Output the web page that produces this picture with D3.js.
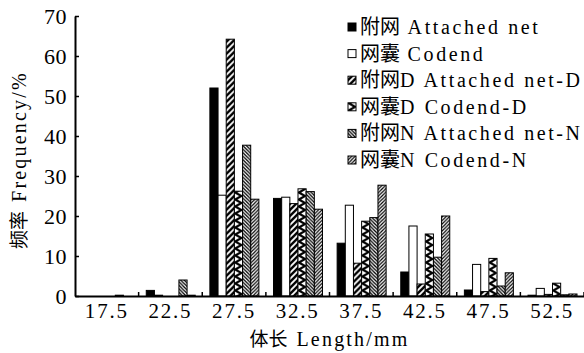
<!DOCTYPE html>
<html>
<head>
<meta charset="utf-8">
<script src="https://cdn.jsdelivr.net/npm/d3@7"></script>
<style>
  body { margin: 0; background: #fff; }
  svg { display: block; }
</style>
</head>
<body>
<div id="chartArea"></div>
<script>
// length classes (mm) and frequencies (%) per net part
const categories = ["17.5", "22.5", "27.5", "32.5", "37.5", "42.5", "47.5", "52.5"];
const attachedNet  = [0,   1.4, 52.0, 24.4, 13.2,  6.0, 1.5, 0.2];
const codend       = [0,   0.2, 25.2, 24.7, 22.7, 17.5, 7.9, 1.9];
const attachedNetD = [0,   0,   64.2, 23.1,  8.2,  3.0, 1.1, 0.4];
const codendD      = [0,   0,   26.2, 26.8, 18.7, 15.5, 9.4, 3.2];
const attachedNetN = [0.2, 4.0, 37.7, 26.1, 19.6,  9.7, 2.5, 0.3];
const codendN      = [0,   0.2, 24.2, 21.7, 27.7, 20.0, 5.8, 0.5];
const seriesCn = ["附网", "网囊", "附网", "网囊", "附网", "网囊"];
const seriesEn = [" Attached net", " Codend", "D Attached net-D",
                  "D Codend-D", "N Attached net-N", "N Codend-N"];
const yTicks = [0, 10, 20, 30, 40, 50, 60, 70];

const series = [attachedNet, codend, attachedNetD, codendD, attachedNetN, codendN];
const fills = ["#000", "#fff", "url(#pD1)", "url(#pD2)", "url(#pN1)", "url(#pN2)"];

const W = 584, H = 353;
const m = {left: 75, right: 0, top: 16, bottom: 57};
const latin = "'Liberation Serif', serif";
const cjk = "'Noto Sans CJK SC', sans-serif";

let svg = d3.select('#chartArea').append('svg').attr('width', W).attr('height', H);

// fill patterns
let defs = svg.append('defs');
let p1 = defs.append('pattern').attr('id', 'pD1').attr('patternUnits', 'userSpaceOnUse')
   .attr('width', 6).attr('height', 6);
p1.append('rect').attr('width', 6).attr('height', 6).attr('fill', '#fff');
p1.append('path').attr('d', 'M-1,7 L7,-1 M-4,4 L4,-4 M2,10 L10,2')
   .attr('stroke', '#000').attr('stroke-width', 2.4);
let p2 = defs.append('pattern').attr('id', 'pD2').attr('patternUnits', 'userSpaceOnUse')
   .attr('width', 8).attr('height', 7);
p2.append('rect').attr('width', 8).attr('height', 7).attr('fill', '#fff');
p2.append('path').attr('d', 'M8,-0.5 L1,3.5 L8,7.5').attr('fill', 'none')
   .attr('stroke', '#000').attr('stroke-width', 2.2);
let p3 = defs.append('pattern').attr('id', 'pN1').attr('patternUnits', 'userSpaceOnUse')
   .attr('width', 3.5).attr('height', 3.5);
p3.append('rect').attr('width', 3.5).attr('height', 3.5).attr('fill', '#fff');
p3.append('path').attr('d', 'M-1,-1 L4.5,4.5 M-1,2.5 L1,4.5 M2.5,-1 L4.5,1')
   .attr('stroke', '#000').attr('stroke-width', 1.3);
let p4 = defs.append('pattern').attr('id', 'pN2').attr('patternUnits', 'userSpaceOnUse')
   .attr('width', 3.5).attr('height', 3.5);
p4.append('rect').attr('width', 3.5).attr('height', 3.5).attr('fill', '#fff');
p4.append('path').attr('d', 'M-1,4.5 L4.5,-1 M-1,1 L1,-1 M2.5,4.5 L4.5,2.5')
   .attr('stroke', '#000').attr('stroke-width', 1.2);

let x0 = d3.scaleBand().domain(categories).range([m.left, W - m.right]).padding(0);
let bw = x0.bandwidth();
let x1 = d3.scaleBand().domain(d3.range(series.length)).range([bw * 0.12, bw * 0.89]);
let y = d3.scaleLinear().domain([0, 70]).range([H - m.bottom, m.top]);

// bars
let groups = svg.selectAll('g.grp').data(categories).enter().append('g')
   .attr('class', 'grp')
   .attr('transform', d => `translate(${x0(d)},0)`);
groups.selectAll('rect').data((d, i) => series.map((s, j) => ({j: j, v: s[i]})))
   .enter().append('rect')
   .filter(d => d.v > 0)
   .attr('x', d => x1(d.j))
   .attr('width', x1.bandwidth())
   .attr('y', d => y(d.v))
   .attr('height', d => y(0) - y(d.v))
   .attr('fill', d => fills[d.j])
   .attr('stroke', '#000')
   .attr('stroke-width', 1);

// y axis, ticks inward
let yAxis = svg.append('g').attr('transform', `translate(${m.left},0)`)
   .call(d3.axisLeft(y).tickValues(yTicks).tickSizeInner(-4).tickSizeOuter(0).tickPadding(8));
yAxis.select('.domain').attr('stroke-width', 2);
yAxis.selectAll('.tick line').attr('stroke-width', 1.5);
yAxis.selectAll('text').attr('font-family', latin).attr('font-size', 22)
   .attr('letter-spacing', 0.5).attr('fill', '#000');

// x axis: labels under bands, ticks at band edges pointing up
let xAxis = svg.append('g').attr('transform', `translate(0,${y(0)})`)
   .call(d3.axisBottom(x0).tickSize(0).tickPadding(7));
xAxis.select('.domain').attr('stroke-width', 2);
xAxis.selectAll('text').attr('font-family', latin).attr('font-size', 21)
   .attr('letter-spacing', 1.8).attr('fill', '#000');
svg.selectAll('line.edge').data(categories).enter().append('line')
   .attr('class', 'edge')
   .attr('x1', d => x0(d) + bw).attr('x2', d => x0(d) + bw)
   .attr('y1', y(0)).attr('y2', y(0) - 4)
   .attr('stroke', '#000').attr('stroke-width', 1.5);

// axis titles
let xt = svg.append('text').attr('x', (m.left + W) / 2 + 0).attr('y', H - 7)
   .attr('text-anchor', 'middle').attr('font-size', 20);
xt.append('tspan').attr('font-family', cjk).attr('font-size', 19).text('体长');
xt.append('tspan').attr('font-family', latin).attr('dx', 9).attr('letter-spacing', 2.2)
   .text('Length/mm');

let yt = svg.append('text').attr('transform', `translate(26,${y(0) - 136}) rotate(-90)`)
   .attr('text-anchor', 'middle').attr('font-size', 20);
yt.append('tspan').attr('font-family', cjk).attr('font-size', 19).text('频率');
yt.append('tspan').attr('font-family', latin).attr('dx', 9).attr('letter-spacing', 2.2)
   .text('Frequency/%');

// legend
let leg = svg.selectAll('g.leg').data(seriesCn).enter().append('g')
   .attr('class', 'leg')
   .attr('transform', (d, i) => `translate(348,${27 + i * 26.6})`);
leg.append('rect').attr('x', 0).attr('y', -4).attr('width', 8).attr('height', 8)
   .attr('fill', (d, i) => fills[i]).attr('stroke', '#000').attr('stroke-width', 1);
let lt = leg.append('text').attr('x', 12).attr('y', 7).attr('font-size', 20)
   .style('white-space', 'pre');
lt.append('tspan').attr('font-family', cjk).attr('font-size', 20).text(d => d);
lt.append('tspan').attr('font-family', latin).attr('letter-spacing', 2.6)
   .text((d, i) => seriesEn[i]);
</script>
</body>
</html>
